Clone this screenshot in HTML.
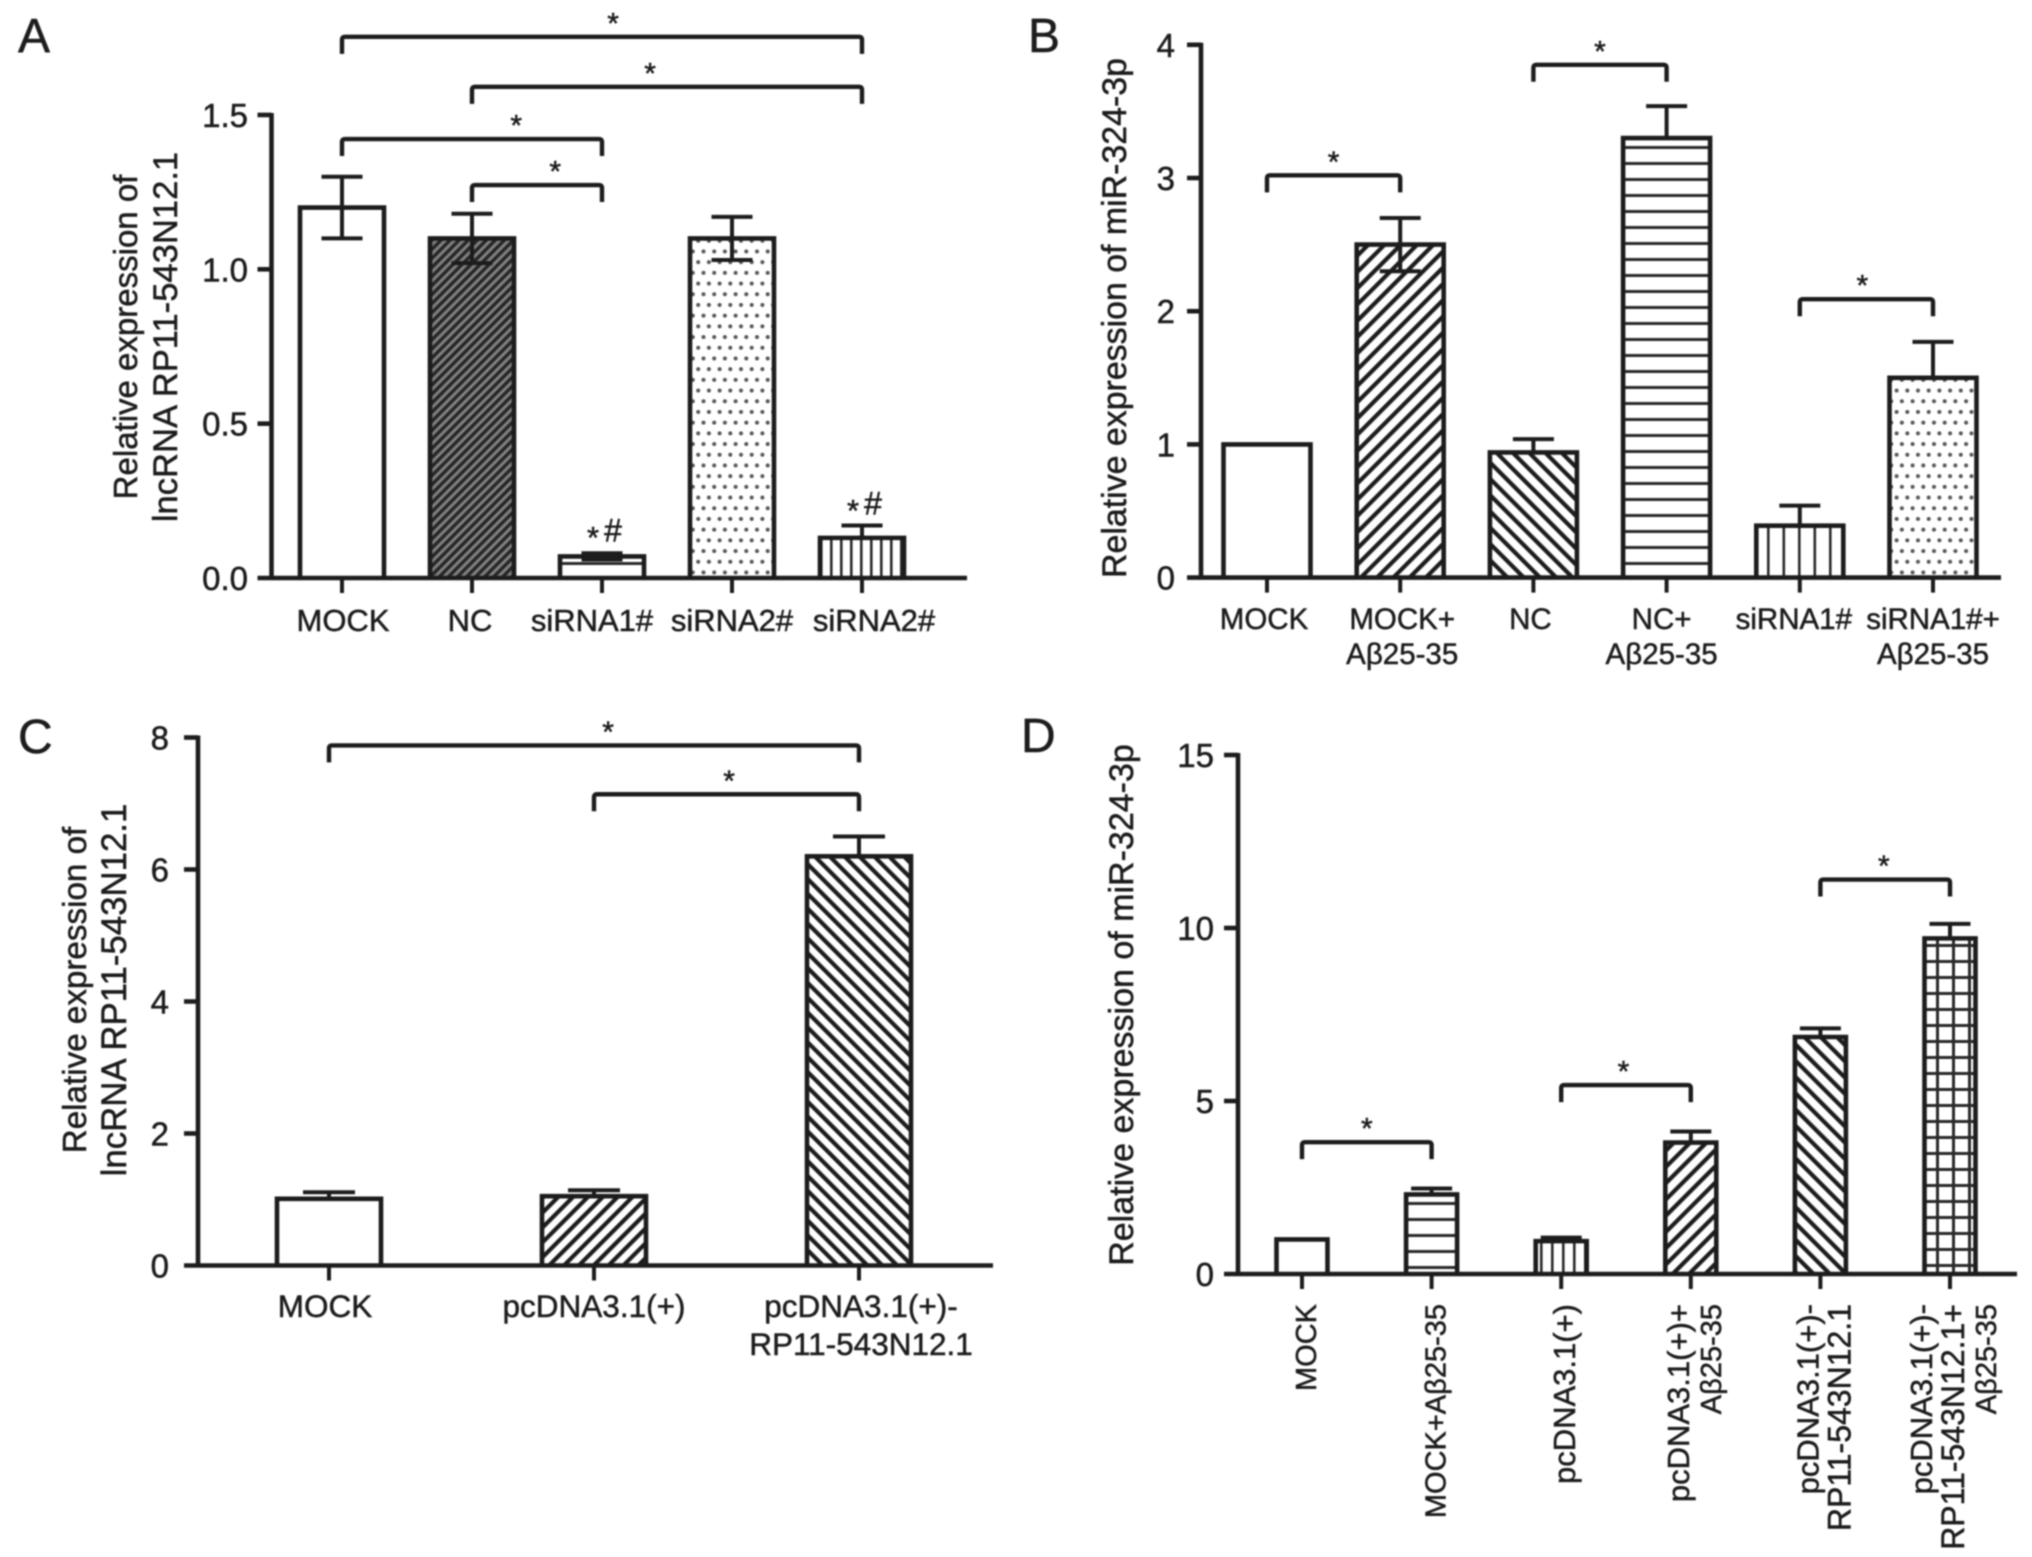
<!DOCTYPE html>
<html lang="en">
<head>
<meta charset="utf-8">
<title>Relative expression bar charts</title>
<style>
html,body{margin:0;padding:0;background:#fff;}
svg{display:block;filter:blur(0.7px);}
text{font-family:"Liberation Sans","DejaVu Sans",sans-serif;fill:#1c1c1c;stroke:#1c1c1c;stroke-width:0.5px;}
</style>
</head>
<body>
<svg id="figure" xmlns="http://www.w3.org/2000/svg" width="2032" height="1557" viewBox="0 0 2032 1557">
<defs>
<pattern id="dense" patternUnits="userSpaceOnUse" width="6.4" height="6.4" patternTransform="rotate(45)"><rect width="6.4" height="6.4" fill="#808080"/><rect width="3.4" height="6.4" fill="#262626"/></pattern>
<pattern id="fwd" patternUnits="userSpaceOnUse" width="11.5" height="11.5" patternTransform="rotate(45)"><rect width="4.2" height="11.5" fill="#1c1c1c"/></pattern>
<pattern id="back" patternUnits="userSpaceOnUse" width="11.5" height="11.5" patternTransform="rotate(-45)"><rect width="4.2" height="11.5" fill="#1c1c1c"/></pattern>
<pattern id="fwdC" patternUnits="userSpaceOnUse" width="10.5" height="10.5" patternTransform="rotate(45)"><rect width="4.2" height="10.5" fill="#1c1c1c"/></pattern>
<pattern id="backC" patternUnits="userSpaceOnUse" width="10.5" height="10.5" patternTransform="rotate(-45)"><rect width="4.2" height="10.5" fill="#1c1c1c"/></pattern>
<pattern id="horiz" patternUnits="userSpaceOnUse" width="16" height="16" y="2"><rect width="16" height="3" fill="#2a2a2a"/></pattern>
<pattern id="vert" patternUnits="userSpaceOnUse" width="15.5" height="16"><rect width="2.6" height="16" fill="#2a2a2a"/></pattern>
<pattern id="vertFine" patternUnits="userSpaceOnUse" width="10" height="16"><rect width="2.6" height="16" fill="#2a2a2a"/></pattern>
<pattern id="vertMid" patternUnits="userSpaceOnUse" width="11" height="16"><rect width="2.6" height="16" fill="#2a2a2a"/></pattern>
<pattern id="grid" patternUnits="userSpaceOnUse" width="16" height="16"><rect width="16" height="3" fill="#2a2a2a"/><rect width="3" height="16" fill="#2a2a2a"/></pattern>
<pattern id="dots" patternUnits="userSpaceOnUse" width="10.7" height="21.4"><circle cx="2.7" cy="5.3" r="2" fill="#555"/><circle cx="8" cy="16" r="2" fill="#555"/></pattern>
</defs>
</svg>
<script>
/* Panel A data */
const panelACategories = ["MOCK", "NC", "siRNA1#", "siRNA2#", "siRNA2#"];
const panelAValues = [1.2, 1.1, 0.07, 1.1, 0.13];
const panelAErrUp = [0.1, 0.08, 0.01, 0.07, 0.04];
const panelAErrDown = [0.1, 0.08, 0.01, 0.07, 0];
const panelATickValues = [0, 0.5, 1, 1.5];
const panelATickLabels = ["0.0", "0.5", "1.0", "1.5"];
const panelAFills = ["none", "url(#dense)", "url(#horiz)", "url(#dots)", "url(#vertFine)"];
const panelABracketFrom = [0, 1, 0, 1];
const panelABracketTo = [4, 4, 2, 2];
const panelABracketLevel = [1.753, 1.591, 1.422, 1.273];
const panelAStarAt = [2.085, 2.37, 1.34, 1.64];
const panelAMarkCategory = [2, 4];
const panelAMarkLevel = [0.155, 0.243];

/* Panel B data */
const panelBCategories = ["MOCK", "MOCK+\nAβ25-35", "NC", "NC+\nAβ25-35", "siRNA1#", "siRNA1#+\nAβ25-35"];
const panelBValues = [1, 2.5, 0.94, 3.3, 0.39, 1.5];
const panelBErrUp = [0, 0.2, 0.1, 0.24, 0.15, 0.27];
const panelBErrDown = [0, 0.2, 0, 0, 0, 0];
const panelBTickValues = [0, 1, 2, 3, 4];
const panelBTickLabels = ["0", "1", "2", "3", "4"];
const panelBFills = ["none", "url(#fwd)", "url(#back)", "url(#horiz)", "url(#vert)", "url(#dots)"];
const panelBBracketFrom = [0, 2, 4];
const panelBBracketTo = [1, 3, 5];
const panelBBracketLevel = [3.02, 3.85, 2.09];
const panelBStarAt = [0.5, 2.5, 4.47];

/* Panel C data */
const panelCCategories = ["MOCK", "pcDNA3.1(+)", "pcDNA3.1(+)-\nRP11-543N12.1"];
const panelCValues = [1.01, 1.05, 6.2];
const panelCErrUp = [0.1, 0.09, 0.3];
const panelCErrDown = [0, 0, 0];
const panelCTickValues = [0, 2, 4, 6, 8];
const panelCTickLabels = ["0", "2", "4", "6", "8"];
const panelCFills = ["none", "url(#fwdC)", "url(#backC)"];
const panelCBracketFrom = [0, 1];
const panelCBracketTo = [2, 2];
const panelCBracketLevel = [7.88, 7.14];
const panelCStarAt = [1.053, 1.51];

/* Panel D data */
const panelDCategories = ["MOCK", "MOCK+Aβ25-35", "pcDNA3.1(+)", "pcDNA3.1(+)+\nAβ25-35", "pcDNA3.1(+)-\nRP11-543N12.1", "pcDNA3.1(+)-\nRP11-543N12.1+\nAβ25-35"];
const panelDValues = [1, 2.3, 0.95, 3.8, 6.85, 9.7];
const panelDErrUp = [0, 0.17, 0.1, 0.32, 0.25, 0.42];
const panelDErrDown = [0, 0, 0, 0, 0, 0];
const panelDTickValues = [0, 5, 10, 15];
const panelDTickLabels = ["0", "5", "10", "15"];
const panelDFills = ["none", "url(#horiz)", "url(#vertMid)", "url(#fwd)", "url(#back)", "url(#grid)"];
const panelDBracketFrom = [0, 2, 4];
const panelDBracketTo = [1, 3, 5];
const panelDBracketLevel = [3.81, 5.46, 11.4];
const panelDStarAt = [0.5, 2.48, 4.49];

const NS = "http://www.w3.org/2000/svg";
const INK = "#1c1c1c";
const figure = document.getElementById("figure");

function shape(parent, tag, attrs) {
  const el = document.createElementNS(NS, tag);
  for (const k in attrs) el.setAttribute(k, attrs[k]);
  parent.appendChild(el);
  return el;
}
function line(parent, name, x1, y1, x2, y2, w) {
  const el = shape(parent, "line", {x1: x1, y1: y1, x2: x2, y2: y2, stroke: INK, "stroke-width": w});
  
  
  return el;
}
function label(parent, name, x, y, str, size, anchor, rotated) {
  const el = shape(parent, "text", {x: 0, y: 0, "font-size": size, "text-anchor": anchor,
    transform: "translate(" + x + " " + y + ")" + (rotated ? " rotate(-90)" : "")});
  el.textContent = str;
  
  
  return el;
}
/* rotated labels in panel D: digit-heavy construct names print a little larger */
function rotatedSize(t) {
  if (t.indexOf("RP11") === 0) return 32;
  if (t.indexOf("pcDNA") === 0) return 31;
  return 29;
}

function drawPanel(cfg) {
  const g = shape(figure, "g", {});
  
  

  const xScale = i => cfg.x0 + i * cfg.step;
  const yScale = v => cfg.y0 - v * cfg.unit;

  label(g, 'panel-letter-' + cfg.id, cfg.letterX, cfg.letterY, cfg.id.toUpperCase(), 48, "start", false);

  cfg.titleLines.forEach((t, i) => {
    label(g, 'y-axis-title-' + cfg.id + '-line-' + (i + 1), cfg.titleX[i], cfg.titleY, t, cfg.titleSize[i], "middle", true);
  });

  /* bars */
  cfg.values.forEach((v, i) => {
    const cx = xScale(i), hw = cfg.barWidth / 2 - 2, top = yScale(v);
    const bar = shape(g, "path", {
      d: "M" + (cx - hw) + " " + cfg.y0 + "V" + top + "H" + (cx + hw) + "V" + cfg.y0,
      fill: cfg.fills[i] === "none" ? "#fff" : cfg.fills[i], stroke: INK, "stroke-width": 4.6
    });
    
    

    const hi = yScale(v + cfg.errUp[i]), lo = yScale(v - cfg.errDown[i]);
    if (cfg.errUp[i] > 0) {
      line(g, 'error-stem-' + cfg.id + '-' + (i + 1), cx, lo, cx, hi, 4);
      line(g, 'error-cap-upper-' + cfg.id + '-' + (i + 1), cx - cfg.capWidth / 2, hi, cx + cfg.capWidth / 2, hi, 4);
    }
    if (cfg.errDown[i] > 0) {
      line(g, 'error-cap-lower-' + cfg.id + '-' + (i + 1), cx - cfg.capWidth / 2, lo, cx + cfg.capWidth / 2, lo, 4);
    }
  });

  /* axes */
  line(g, 'y-axis-' + cfg.id, cfg.axisX, yScale(cfg.tickValues[cfg.tickValues.length - 1]) - 2, cfg.axisX, cfg.y0 + 2, 4.6);
  line(g, 'x-axis-' + cfg.id, cfg.axisX - 14, cfg.y0, cfg.axisEnd, cfg.y0, 4.6);

  cfg.tickValues.forEach((v, i) => {
    const y = yScale(v);
    if (v !== 0) line(g, 'y-tick-' + cfg.id + '-' + cfg.tickLabels[i], cfg.axisX - 14, y, cfg.axisX, y, 4.6);
    label(g, 'y-tick-label-' + cfg.id + '-' + cfg.tickLabels[i], cfg.tickLabelX, y + 12, cfg.tickLabels[i], 33, "end", false);
  });

  cfg.categories.forEach((c, i) => {
    const cx = xScale(i);
    line(g, 'x-tick-' + cfg.id + '-' + (i + 1), cx, cfg.y0, cx, cfg.y0 + 15, 4);
    const lines = c.split("\n");
    lines.forEach((t, j) => {
      const name = 'x-tick-label-' + cfg.id + '-' + (i + 1) + '-line-' + (j + 1);
      if (cfg.rotatedLabels) {
        const bx = cx + 14 + (j - (lines.length - 1) / 2) * 32;
        label(g, name, bx, cfg.labelTop, t, rotatedSize(t), "end", true);
      } else {
        label(g, name, cx + cfg.labelNudge[i], cfg.labelY + j * cfg.labelLine, t, cfg.labelSize, "middle", false);
      }
    });
  });

  /* significance brackets */
  cfg.bracketFrom.forEach((from, i) => {
    const x1 = xScale(from), x2 = xScale(cfg.bracketTo[i]), y = yScale(cfg.bracketLevel[i]);
    const b = shape(g, "path", {
      d: "M" + x1 + " " + (y + 17) + "V" + (y + 3) + "Q" + x1 + " " + y + " " + (x1 + 3) + " " + y +
         "H" + (x2 - 3) + "Q" + x2 + " " + y + " " + x2 + " " + (y + 3) + "V" + (y + 17),
      fill: "none", stroke: INK, "stroke-width": 4.4
    });
    
    
    label(g, 'significance-star-' + cfg.id + '-' + (i + 1), xScale(cfg.starAt[i]), y - 3.5, "*", 30, "middle", false);
  });

  /* per-bar marks */
  (cfg.markCategory || []).forEach((c, i) => {
    const x = xScale(c) + 1, y = yScale(cfg.markLevel[i]);
    label(g, 'mark-star-' + cfg.id + '-' + (i + 1), x - 10, y + 18, "*", 31, "middle", false);
    label(g, 'mark-hash-' + cfg.id + '-' + (i + 1), x + 10, y + 11.5, "#", 32, "middle", false);
  });
}

drawPanel({
  id: "a", x0: 342, step: 130, y0: 578, unit: 308.7, axisX: 271.5, axisEnd: 967, barWidth: 88, capWidth: 41,
  letterX: 18, letterY: 52, tickLabelX: 248,
  titleLines: ["Relative expression of", "lncRNA RP11-543N12.1"], titleX: [137, 177], titleY: 337, titleSize: [33, 34.6],
  categories: panelACategories, values: panelAValues, errUp: panelAErrUp, errDown: panelAErrDown,
  tickValues: panelATickValues, tickLabels: panelATickLabels, fills: panelAFills,
  bracketFrom: panelABracketFrom, bracketTo: panelABracketTo, bracketLevel: panelABracketLevel, starAt: panelAStarAt,
  markCategory: panelAMarkCategory, markLevel: panelAMarkLevel,
  labelY: 631, labelLine: 35, labelSize: 31, labelNudge: [1, -2, -10, 0, 12]
});

drawPanel({
  id: "b", x0: 1267, step: 133.2, y0: 577.6, unit: 133.2, axisX: 1201, axisEnd: 2001, barWidth: 91, capWidth: 41,
  letterX: 1028, letterY: 52, tickLabelX: 1175,
  titleLines: ["Relative expression of miR-324-3p"], titleX: [1126], titleY: 318, titleSize: [33.9],
  categories: panelBCategories, values: panelBValues, errUp: panelBErrUp, errDown: panelBErrDown,
  tickValues: panelBTickValues, tickLabels: panelBTickLabels, fills: panelBFills,
  bracketFrom: panelBBracketFrom, bracketTo: panelBBracketTo, bracketLevel: panelBBracketLevel, starAt: panelBStarAt,
  labelY: 629, labelLine: 35, labelSize: 29.5, labelNudge: [-3, 2, -3, -5, -6, 0]
});

drawPanel({
  id: "c", x0: 329, step: 265, y0: 1265.5, unit: 66, axisX: 198, axisEnd: 993, barWidth: 108, capWidth: 52,
  letterX: 18, letterY: 753, tickLabelX: 169,
  titleLines: ["Relative expression of", "lncRNA RP11-543N12.1"], titleX: [86, 126], titleY: 990, titleSize: [33.2, 34.8],
  categories: panelCCategories, values: panelCValues, errUp: panelCErrUp, errDown: panelCErrDown,
  tickValues: panelCTickValues, tickLabels: panelCTickLabels, fills: panelCFills,
  bracketFrom: panelCBracketFrom, bracketTo: panelCBracketTo, bracketLevel: panelCBracketLevel, starAt: panelCStarAt,
  labelY: 1317, labelLine: 38, labelSize: 31.5, labelNudge: [-4, 0, 2]
});

drawPanel({
  id: "d", x0: 1302, step: 129.6, y0: 1274, unit: 34.6, axisX: 1238, axisEnd: 2017, barWidth: 55, capWidth: 41,
  letterX: 1021, letterY: 752, tickLabelX: 1214,
  titleLines: ["Relative expression of miR-324-3p"], titleX: [1133], titleY: 1005, titleSize: [34],
  categories: panelDCategories, values: panelDValues, errUp: panelDErrUp, errDown: panelDErrDown,
  tickValues: panelDTickValues, tickLabels: panelDTickLabels, fills: panelDFills,
  bracketFrom: panelDBracketFrom, bracketTo: panelDBracketTo, bracketLevel: panelDBracketLevel, starAt: panelDStarAt,
  rotatedLabels: true, labelTop: 1304
});
</script>
</body>
</html>
